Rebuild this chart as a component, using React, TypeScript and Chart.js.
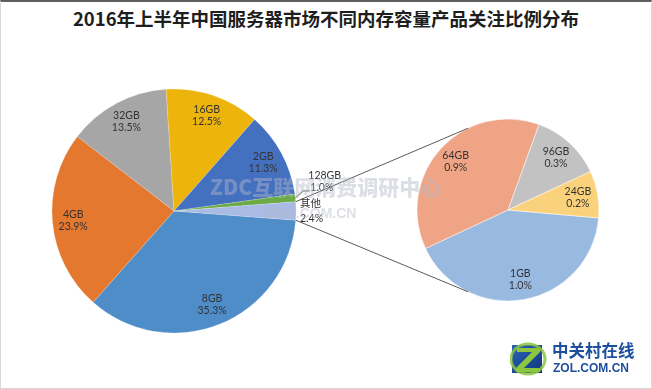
import React, { useEffect, useRef } from "react";
import { Chart, registerables } from "chart.js";
Chart.register(...registerables);

const TITLE = "2016年上半年中国服务器市场不同内存容量产品关注比例分布";

const mainLabels = ["8GB", "4GB", "32GB", "16GB", "2GB", "128GB", "其他"];
const mainValues = [35.3, 23.9, 13.5, 12.5, 11.3, 1.0, 2.4];
const mainColors = ["#4F8DC9", "#E4782E", "#A6A6A6", "#EDB40C", "#4470C0", "#6CAA46", "#A9BBE2"];

const subLabels = ["1GB", "64GB", "96GB", "24GB"];
const subValues = [1.0, 0.9, 0.3, 0.2];
const subColors = ["#98BAE0", "#EFA486", "#C2C2C2", "#FBD27C"];

const WATERMARK_1 = "ZDC互联网消费调研中心";
const WATERMARK_2 = "ZDC.COM.CN";
const LOGO_CN = "中关村在线";
const LOGO_EN = "ZOL.COM.CN";

const LABEL_FONT = "10.5px Lato, 'Noto Sans CJK SC', sans-serif";
const LABEL_COLOR = "#333333";

type OutsideSpec = { dx: number; dy1: number; dy2: number; dx2: number; leader?: [number, number, number] };

function makeLabelPlugin(frac: number, outside: Record<string, OutsideSpec>) {
  return {
    id: "sliceLabels",
    afterDatasetsDraw(chart: any) {
      const ctx = chart.ctx;
      const meta = chart.getDatasetMeta(0);
      const labels = chart.data.labels as string[];
      const data = chart.data.datasets[0].data as number[];
      ctx.save();
      ctx.font = LABEL_FONT;
      ctx.fillStyle = LABEL_COLOR;
      ctx.textBaseline = "middle";
      meta.data.forEach((arc: any, i: number) => {
        const { x, y, startAngle, endAngle, outerRadius } = arc;
        const mid = (startAngle + endAngle) / 2;
        const name = labels[i];
        const pct = data[i].toFixed(1) + "%";
        const o = outside[name];
        if (o) {
          const ex = x + outerRadius * Math.cos(mid);
          const ey = y + outerRadius * Math.sin(mid);
          if (o.leader) {
            ctx.strokeStyle = "#555";
            ctx.lineWidth = 1;
            ctx.beginPath();
            ctx.moveTo(ex, ey);
            ctx.lineTo(ex + o.leader[0], ey + o.leader[1]);
            ctx.lineTo(ex + o.leader[2], ey + o.leader[1]);
            ctx.stroke();
          }
          ctx.textAlign = "left";
          ctx.fillText(name, ex + o.dx, ey + o.dy1);
          ctx.fillText(pct, ex + o.dx2, ey + o.dy2);
        } else {
          const lx = x + frac * outerRadius * Math.cos(mid);
          const ly = y + frac * outerRadius * Math.sin(mid);
          ctx.textAlign = "center";
          ctx.fillText(name, lx, ly - 6);
          ctx.fillText(pct, lx, ly + 6);
        }
      });
      ctx.restore();
    },
  };
}

export default function App() {
  const mainRef = useRef<HTMLCanvasElement>(null);
  const subRef = useRef<HTMLCanvasElement>(null);

  useEffect(() => {
    const mainChart = new Chart(mainRef.current!, {
      type: "pie",
      data: {
        labels: mainLabels,
        datasets: [
          {
            data: mainValues,
            backgroundColor: mainColors,
            borderColor: "rgba(255,255,255,0.35)",
            borderWidth: 0.5,
          },
        ],
      },
      options: {
        responsive: false,
        animation: false,
        rotation: 94.3,
        radius: 122,
        layout: { padding: { left: 0, right: 304, top: 33, bottom: 0 } },
        plugins: { legend: { display: false }, tooltip: { enabled: false } },
      },
      plugins: [
        makeLabelPlugin(0.83, {
          "128GB": { dx: 13, dy1: -22, dx2: 15, dy2: -10, leader: [8, -7, 14] },
          "其他": { dx: 4, dy1: -7, dx2: 4, dy2: 8 },
        }),
      ],
    } as any);

    const connectorPlugin = {
      id: "connectors",
      afterDraw(chart: any) {
        const ctx = chart.ctx;
        const other: any = mainChart.getDatasetMeta(0).data[mainLabels.length - 1];
        const sub: any = chart.getDatasetMeta(0).data[0];
        const a1 = (-116 * Math.PI) / 180;
        const a2 = (116 * Math.PI) / 180;
        ctx.save();
        ctx.strokeStyle = "#5a5a5a";
        ctx.lineWidth = 1;
        ctx.beginPath();
        ctx.moveTo(other.x + other.outerRadius * Math.cos(other.startAngle), other.y + other.outerRadius * Math.sin(other.startAngle));
        ctx.lineTo(sub.x + sub.outerRadius * Math.cos(a1), sub.y + sub.outerRadius * Math.sin(a1));
        ctx.moveTo(other.x + other.outerRadius * Math.cos(other.endAngle), other.y + other.outerRadius * Math.sin(other.endAngle));
        ctx.lineTo(sub.x + sub.outerRadius * Math.cos(a2), sub.y + sub.outerRadius * Math.sin(a2));
        ctx.stroke();
        ctx.restore();
      },
    };

    const subChart = new Chart(subRef.current!, {
      type: "pie",
      data: {
        labels: subLabels,
        datasets: [
          {
            data: subValues,
            backgroundColor: subColors,
            borderColor: "rgba(255,255,255,0.6)",
            borderWidth: 0.8,
          },
        ],
      },
      options: {
        responsive: false,
        animation: false,
        rotation: 95,
        radius: 91,
        layout: { padding: { left: 364, right: 0, top: 31, bottom: 0 } },
        plugins: { legend: { display: false }, tooltip: { enabled: false } },
      },
      plugins: [makeLabelPlugin(0.78, {}), connectorPlugin],
    } as any);

    return () => {
      subChart.destroy();
      mainChart.destroy();
    };
  }, []);

  const abs: React.CSSProperties = { position: "absolute", left: 0, top: 0 };

  return (
    <div
      style={{
        position: "fixed",
        left: 0,
        top: 0,
        width: 652,
        height: 389,
        background: "#fff",
        boxSizing: "border-box",
        border: "1px solid #d8d8d8",
        borderTop: "2px solid #5f5f5f",
        overflow: "hidden",
      }}
    >
      <div
        style={{
          position: "absolute",
          left: -1,
          top: 5,
          width: 652,
          textAlign: "center",
          fontFamily: "'Noto Sans CJK SC', sans-serif",
          fontWeight: 700,
          fontSize: 18.5,
          lineHeight: "22px",
          color: "#1e1e1e",
        }}
      >
        {TITLE}
      </div>
      <canvas ref={mainRef} width={652} height={389} style={{ ...abs, left: -1, top: -2 }} />
      <canvas ref={subRef} width={652} height={389} style={{ ...abs, left: -1, top: -2 }} />
      <div
        style={{
          position: "absolute",
          left: 209,
          top: 170,
          fontFamily: "'Noto Sans CJK SC', sans-serif",
          fontWeight: 900,
          fontSize: 21,
          lineHeight: "28px",
          color: "rgba(180,185,200,0.45)",
          whiteSpace: "nowrap",
          pointerEvents: "none",
        }}
      >
        {WATERMARK_1}
      </div>
      <div
        style={{
          position: "absolute",
          left: 266,
          top: 202,
          fontFamily: "'Liberation Sans', Arial, sans-serif",
          fontWeight: 700,
          fontSize: 14,
          lineHeight: "18px",
          color: "rgba(180,185,200,0.45)",
          whiteSpace: "nowrap",
          pointerEvents: "none",
        }}
      >
        {WATERMARK_2}
      </div>
      <svg style={{ position: "absolute", left: 509, top: 340 }} width={37} height={34} viewBox="0 0 37 34">
        <defs>
          <linearGradient id="zb" x1="0" y1="0" x2="1" y2="1">
            <stop offset="0" stopColor="#2a62b8" />
            <stop offset="1" stopColor="#12367e" />
          </linearGradient>
        </defs>
        <rect x="2" y="3" width="30" height="28" fill="url(#zb)" />
        <ellipse cx="18" cy="17" rx="17" ry="15" fill="none" stroke="#8cc63f" strokeWidth="3" opacity="0.85" />
        <polygon points="7,6 30,6 30,10 14,26 30,26 30,30 6,30 6,26 22,10 7,10" fill="#8cc63f" />
      </svg>
      <div
        style={{
          position: "absolute",
          left: 551,
          top: 338,
          fontFamily: "'Noto Sans CJK SC', sans-serif",
          fontWeight: 700,
          fontSize: 16.5,
          lineHeight: "20px",
          color: "#1d4f9e",
          whiteSpace: "nowrap",
        }}
      >
        {LOGO_CN}
      </div>
      <div
        style={{
          position: "absolute",
          left: 552,
          top: 359,
          fontFamily: "'Liberation Sans', Arial, sans-serif",
          fontWeight: 700,
          fontSize: 12,
          lineHeight: "14px",
          color: "#1d4f9e",
          whiteSpace: "nowrap",
        }}
      >
        {LOGO_EN}
      </div>
    </div>
  );
}
